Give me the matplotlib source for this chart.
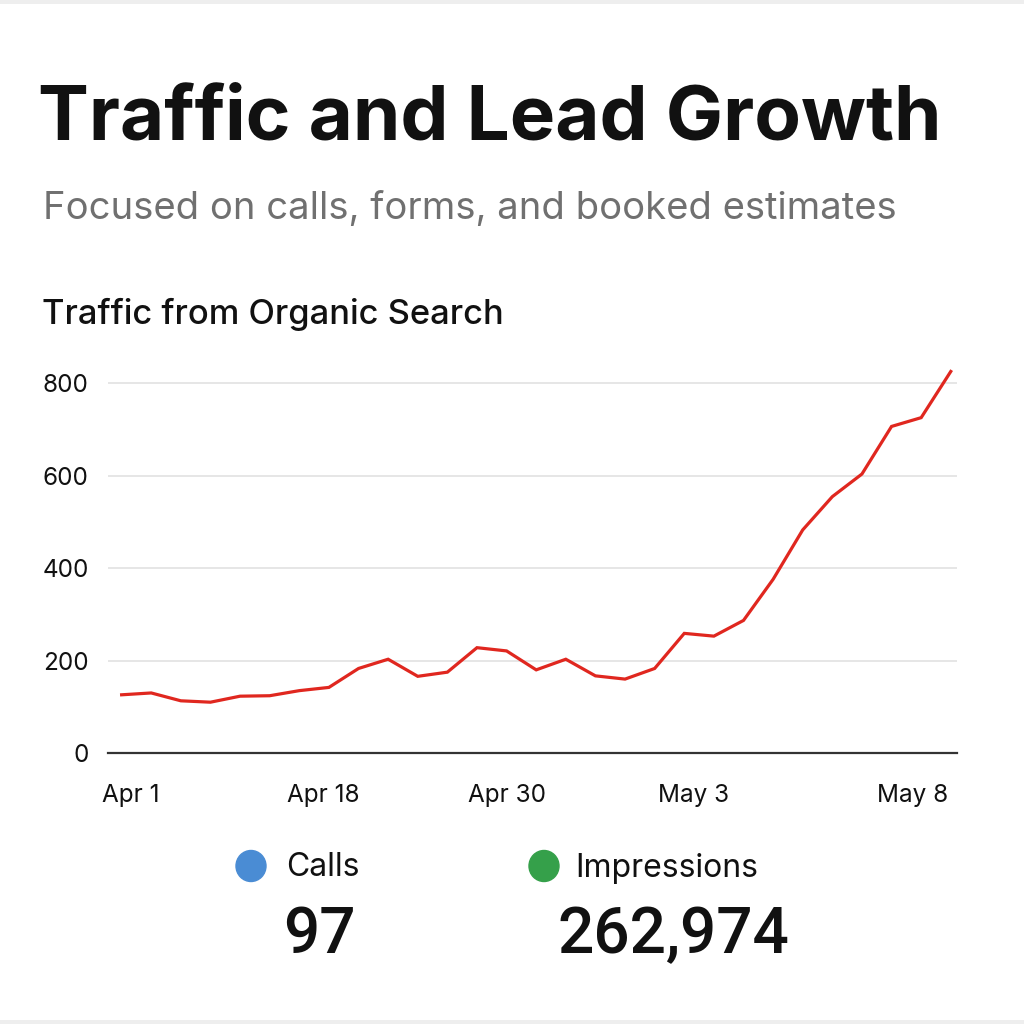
import matplotlib
matplotlib.use("Agg")
import matplotlib.pyplot as plt
from matplotlib.patches import Ellipse, Rectangle

# data
traffic = [126, 130, 113, 110, 123, 124, 135, 142, 183, 203, 166, 175, 228, 221,
           180, 203, 167, 160, 183, 259, 253, 287, 376, 483, 555, 604, 707, 726, 826]
tick_pos = [0.3, 6.8, 13.0, 19.3, 26.7]
tick_labels = ["Apr 1", "Apr 18", "Apr 30", "May 3", "May 8"]
y_ticks = [0, 200, 400, 600, 800]

kpi_names = ["Calls", "Impressions"]
kpi_values = ["97", "262,974"]
kpi_colors = ["#4a8cd4", "#35a04a"]

plt.rcParams['font.family'] = ['Inter', 'DejaVu Sans']

fig = plt.figure(figsize=(10.24, 10.24), dpi=100)
fig.patch.set_facecolor("white")
# faint bands at top and bottom edge
fig.patches.append(Rectangle((0, 1 - 4/1024), 1, 4/1024, transform=fig.transFigure,
                             color="#eeeeee", lw=0))
fig.patches.append(Rectangle((0, 0), 1, 4/1024, transform=fig.transFigure,
                             color="#eeeeee", lw=0))

# titles
fig.text(0.037, 0.883, "Traffic and Lead Growth", fontsize=55, fontweight="bold",
         color="#111111", va="center", ha="left")
fig.text(0.042, 0.796, "Focused on calls, forms, and booked estimates", fontsize=27.5,
         color="#707070", va="center", ha="left")
fig.text(0.041, 0.693, "Traffic from Organic Search", fontsize=24.8, fontweight="medium",
         color="#111111", va="center", ha="left")

# line chart
ax = fig.add_axes([108/1024, 1 - 753/1024, (957-108)/1024, (753-365)/1024])
x = list(range(len(traffic)))
ax.plot(x, traffic, color="#e0271f", lw=2.3, solid_joinstyle="miter")
ax.set_xlim(-0.46, len(traffic) - 1 + 0.21)
ax.set_ylim(0, 840)
ax.set_yticks(y_ticks)
ax.set_yticklabels([str(v) for v in y_ticks])
ax.set_xticks(tick_pos)
ax.set_xticklabels(tick_labels)
ax.grid(axis="y", color="#e2e2e2", lw=1.2)
ax.set_axisbelow(True)
for s in ["top", "right", "left"]:
    ax.spines[s].set_visible(False)
ax.spines["bottom"].set_color("#333333")
ax.spines["bottom"].set_linewidth(1.6)
ax.tick_params(length=0, labelsize=17.5, colors="#111111")
ax.tick_params(axis="y", pad=14)
ax.tick_params(axis="x", pad=22)

# kpi row
dot_x = [251, 544]
text_x = [286, 575]
val_x = [283, 557]
for i in range(len(kpi_names)):
    fig.patches.append(Ellipse((dot_x[i]/1024, 1 - 866/1024), 30/1024, 31/1024,
                               transform=fig.transFigure, color=kpi_colors[i]))
    fig.text(text_x[i]/1024, 1 - 868/1024, kpi_names[i], fontsize=23,
             color="#111111", va="center", ha="left")
    fig.text(val_x[i]/1024, 1 - 935/1024, kpi_values[i], fontsize=46,
             fontweight="medium", family=["Roboto", "DejaVu Sans"],
             color="#111111", va="center", ha="left")

fig.savefig("out.png", dpi=100, facecolor="white")
